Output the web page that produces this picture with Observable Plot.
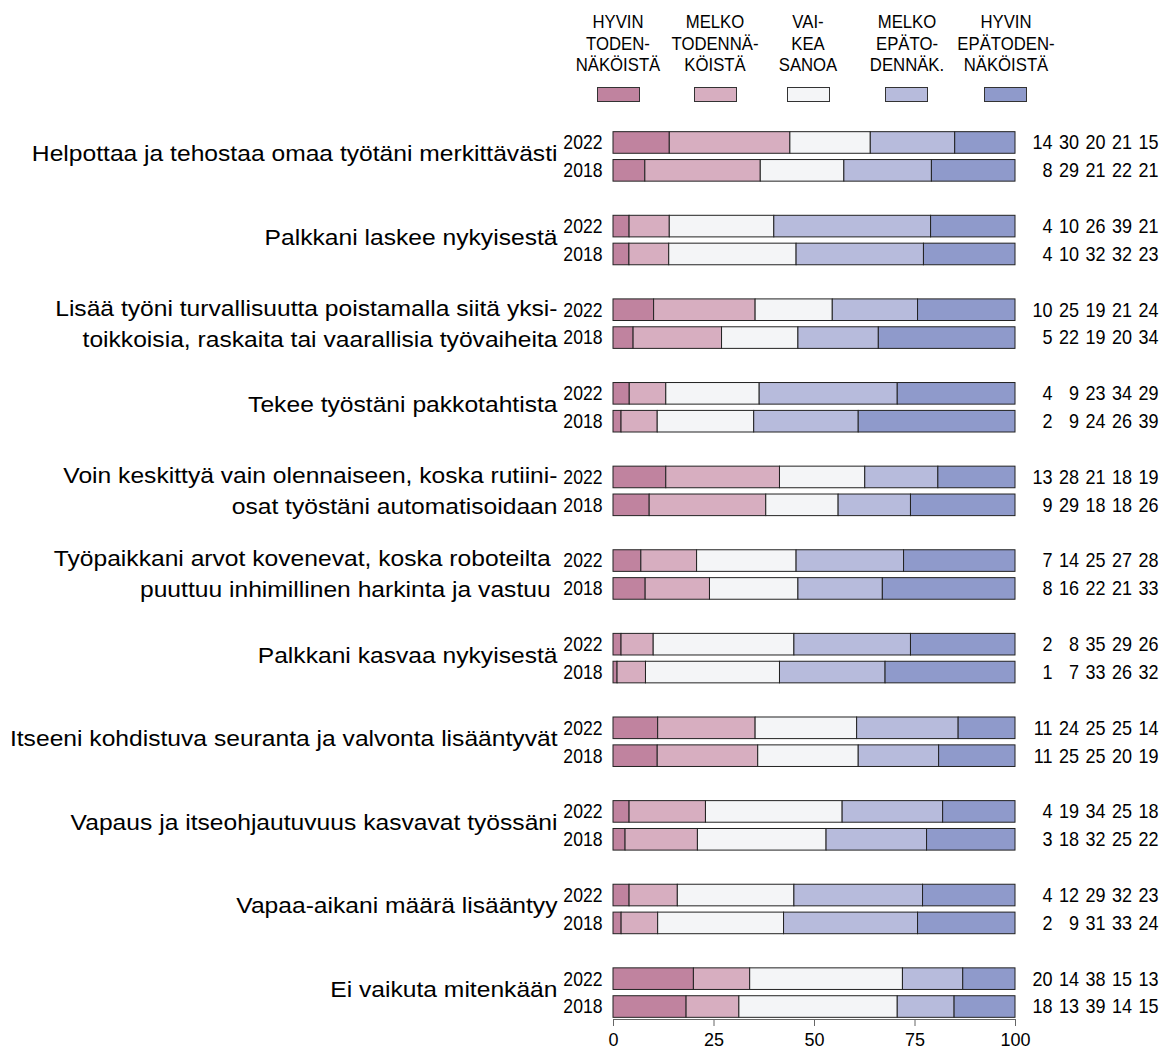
<!DOCTYPE html>
<html>
<head>
<meta charset="utf-8">
<script src="https://cdn.jsdelivr.net/npm/d3@7"></script>
<script src="https://cdn.jsdelivr.net/npm/@observablehq/plot@0.6"></script>
<style>
  body { margin: 0; background: #fff; font-family: "Liberation Sans", Arial, Helvetica, sans-serif; }
  #wrap { width: 1167px; }
  #legend { position: relative; width: 1167px; height: 110px; }
  #chart { height: 940px; }
  #chart svg { display: block; }
  .lg-item { position: absolute; top: 0; width: 120px; margin-left: -60px; text-align: center; }
  .lg-text { position: absolute; top: 11px; left: 0; width: 120px; font-size: 19px; line-height: 21.5px; white-space: pre; color: #000; transform: scaleX(0.88); transform-origin: 50% 0; }
  .lg-swatch { position: absolute; top: 87px; left: 38.5px; width: 41px; height: 13px; border: 1px solid #333; }
</style>
</head>
<body>
<div id="wrap">
  <div id="legend"></div>
  <div id="chart"></div>
</div>
<script>
// ---- data ----
const categories = [
  "Helpottaa ja tehostaa omaa työtäni merkittävästi",
  "Palkkani laskee nykyisestä",
  "Lisää työni turvallisuutta poistamalla siitä yksi-\ntoikkoisia, raskaita tai vaarallisia työvaiheita",
  "Tekee työstäni pakkotahtista",
  "Voin keskittyä vain olennaiseen, koska rutiini-\nosat työstäni automatisoidaan",
  "Työpaikkani arvot kovenevat, koska roboteilta \npuuttuu inhimillinen harkinta ja vastuu ",
  "Palkkani kasvaa nykyisestä",
  "Itseeni kohdistuva seuranta ja valvonta lisääntyvät",
  "Vapaus ja itseohjautuvuus kasvavat työssäni",
  "Vapaa-aikani määrä lisääntyy",
  "Ei vaikuta mitenkään"
];
const years = ["2022", "2018"];
const responses = [
  "HYVIN\nTODEN-\nNÄKÖISTÄ",
  "MELKO\nTODENNÄ-\nKÖISTÄ",
  "VAI-\nKEA\nSANOA",
  "MELKO\nEPÄTO-\nDENNÄK.",
  "HYVIN\nEPÄTODEN-\nNÄKÖISTÄ"
];
const colors = ["#c0839f", "#d7aec0", "#f4f5f7", "#b7bbdc", "#8f9acb"];
const values2022 = [
  [14, 30, 20, 21, 15],
  [4, 10, 26, 39, 21],
  [10, 25, 19, 21, 24],
  [4, 9, 23, 34, 29],
  [13, 28, 21, 18, 19],
  [7, 14, 25, 27, 28],
  [2, 8, 35, 29, 26],
  [11, 24, 25, 25, 14],
  [4, 19, 34, 25, 18],
  [4, 12, 29, 32, 23],
  [20, 14, 38, 15, 13]
];
const values2018 = [
  [8, 29, 21, 22, 21],
  [4, 10, 32, 32, 23],
  [5, 22, 19, 20, 34],
  [2, 9, 24, 26, 39],
  [9, 29, 18, 18, 26],
  [8, 16, 22, 21, 33],
  [1, 7, 33, 26, 32],
  [11, 25, 25, 20, 19],
  [3, 18, 32, 25, 22],
  [2, 9, 31, 33, 24],
  [18, 13, 39, 14, 15]
];
const xTicks = [0, 25, 50, 75, 100];

// ---- legend (HTML, above the SVG) ----
const legendCenters = [618, 715, 808, 906.5, 1005.5];
const legend = document.getElementById("legend");
responses.forEach((r, j) => {
  const item = document.createElement("div");
  item.className = "lg-item";
  item.style.left = legendCenters[j] + "px";
  const t = document.createElement("div");
  t.className = "lg-text";
  t.textContent = r;
  const s = document.createElement("div");
  s.className = "lg-swatch";
  s.style.background = colors[j];
  item.appendChild(t);
  item.appendChild(s);
  legend.appendChild(item);
});

// ---- build tables ----
const keys = [];
categories.forEach((c, i) => {
  keys.push(`${i}|2022`, `${i}|2018`);
  if (i < categories.length - 1) keys.push(`${i}|gap`);
});
const rows = [];
const yearRows = [];
categories.forEach((c, i) => {
  [[years[0], values2022[i]], [years[1], values2018[i]]].forEach(([yr, vals]) => {
    yearRows.push({key: `${i}|${yr}`, year: yr});
    vals.forEach((v, j) => rows.push({key: `${i}|${yr}`, cat: c, year: yr, resp: responses[j], j, value: v}));
  });
});
const catRows = categories.map((c, i) => ({key: `${i}|2022`, label: c, multi: c.includes("\n")}));

const font = '"Liberation Sans", Arial, Helvetica, sans-serif';

const numberMarks = responses.map((r, j) =>
  Plot.text(rows, {
    filter: d => d.j === j,
    y: "key", text: d => String(d.value),
    frameAnchor: "right", textAnchor: "end",
    dx: 37 + 26.5 * j, fontSize: 20, fill: "#000"
  })
);

const catOpts = {
  y: "key", text: "label", frameAnchor: "left", textAnchor: "end",
  dx: -56, fontSize: 22, lineHeight: 31 / 22, lineAnchor: "middle", fill: "#000"
};

const chart = Plot.plot({
  width: 1167,
  height: 940,
  marginLeft: 613,
  marginRight: 152,
  marginTop: 20,
  marginBottom: 31,
  style: {fontFamily: font, fontSize: "18px", color: "#000", background: "#fff", overflow: "visible"},
  x: {domain: [0, 1], axis: null},
  y: {domain: keys, paddingInner: 0.225, paddingOuter: 0.06, round: false, axis: null},
  color: {domain: responses, range: colors},
  marks: [
    Plot.barX(rows, Plot.stackX({
      x: "value", y: "key", fill: "resp", offset: "normalize",
      stroke: "#222", strokeWidth: 1
    })),
    Plot.frame({anchor: "bottom", stroke: "#666"}),
    Plot.axisX({
      ticks: xTicks.map(d => d / 100),
      tickFormat: d => String(Math.round(d * 100)),
      tickSize: 7, tickPadding: 7, stroke: "#666", fontSize: 18, anchor: "bottom", label: null
    }),
    Plot.text(yearRows, {
      y: "key", text: "year", frameAnchor: "left", textAnchor: "end",
      dx: -11, fontSize: 20, fill: "#000"
    }),
    ...numberMarks,
    Plot.text(catRows, {...catOpts, filter: d => !d.multi, dy: 8}),
    Plot.text(catRows, {...catOpts, filter: d => d.multi, dy: 11})
  ]
});

// text marks in order: years, 5 number columns, categories (single), categories (multi)
const textGroups = chart.querySelectorAll('g[aria-label="text"]');
function condense(g, s) {
  g.querySelectorAll("text").forEach(t => {
    const tr = t.getAttribute("transform");
    if (tr) {
      t.setAttribute("transform", tr + ` scale(${s},1)`);
    } else {
      const x = +(t.getAttribute("x") || 0);
      t.setAttribute("transform", `translate(${x},0) scale(${s},1) translate(${-x},0)`);
    }
  });
}
textGroups.forEach((g, k) => {
  if (k === 0) condense(g, 0.88);
  else if (k >= 1 && k <= 5) condense(g, 0.9);
  else condense(g, 1.12);
});

document.getElementById("chart").appendChild(chart);
</script>
</body>
</html>
